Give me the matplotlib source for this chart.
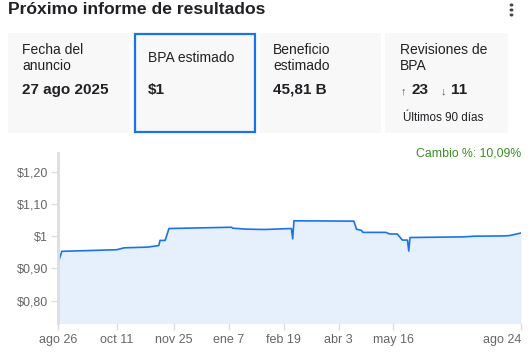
import matplotlib
matplotlib.use("Agg")
import matplotlib.pyplot as plt
from matplotlib.patches import Rectangle
import numpy as np

plt.rcParams['font.family'] = ['Liberation Sans', 'DejaVu Sans']

# ---- data ----
dates = ["2024-08-26", "2024-08-29", "2024-10-11", "2024-10-17", "2024-11-04",
         "2024-11-13", "2024-11-14", "2024-11-18", "2024-11-21", "2025-01-09",
         "2025-01-10", "2025-01-21", "2025-02-04", "2025-02-25", "2025-02-26",
         "2025-02-27", "2025-04-15", "2025-04-17", "2025-04-21", "2025-04-22",
         "2025-05-10", "2025-05-13", "2025-05-19", "2025-05-23", "2025-05-27",
         "2025-05-28", "2025-05-29", "2025-07-10", "2025-07-18", "2025-08-11",
         "2025-08-15", "2025-08-24"]
eps = [0.916, 0.953, 0.958, 0.964, 0.966,
       0.971, 0.987, 0.987, 1.024, 1.028,
       1.025, 1.022, 1.021, 1.024, 0.992,
       1.048, 1.047, 1.022, 1.018, 1.012,
       1.012, 1.007, 1.007, 0.988, 0.988,
       0.954, 0.996, 0.998, 1.000, 1.001,
       1.002, 1.010]
xtick_dates = ["2024-08-26", "2024-10-11", "2024-11-25", "2025-01-07",
               "2025-02-19", "2025-04-03", "2025-05-16", "2025-08-24"]
xtick_labels = ["ago 26", "oct 11", "nov 25", "ene 7", "feb 19", "abr 3", "may 16", "ago 24"]
ytick_vals = [0.80, 0.90, 1.00, 1.10, 1.20]
ytick_labels = ["$0,80", "$0,90", "$1", "$1,10", "$1,20"]
title = "Próximo informe de resultados"
cards = [
    (["Fecha del", "anuncio"], "27 ago 2025"),
    (["BPA estimado"], "$1"),
    (["Beneficio", "estimado"], "45,81 B"),
    (["Revisiones de", "BPA"], None),
]
rev_up, rev_down = "23", "11"
rev_note = "Últimos 90 días"
change_text = "Cambio %: 10,09%"

W, H = 532, 362
fig = plt.figure(figsize=(W / 100, H / 100), dpi=100)
fig.patch.set_facecolor("white")

def fx(x):
    return x / W

def fy(y):
    return 1 - y / H

# title
fig.text(fx(8), fy(10), title, fontsize=12.6, fontweight="bold", color="#202124",
         va="center", ha="left")
# vertical dots
for yy in (5, 10, 15):
    fig.patches.append(plt.Circle((fx(511.5), fy(yy)), 1.2 / W, transform=fig.transFigure,
                                  color="#444444"))

# cards
card_x = [(8, 129), (134, 255), (260, 381), (385, 508)]
for i, (x0, x1) in enumerate(card_x):
    fig.patches.append(Rectangle((fx(x0), fy(133)), (x1 - x0) / W, 100 / H,
                                 transform=fig.transFigure, facecolor="#f8f8f8",
                                 edgecolor="none", zorder=0))
# blue border for selected card
fig.patches.append(Rectangle((fx(135), fy(131.5)), 119.5 / W, 97.5 / H,
                             transform=fig.transFigure, facecolor="none",
                             edgecolor="#1a73e8", linewidth=1.6, zorder=2))

text_x = [22, 148, 273, 400]
for (lines, big), tx in zip(cards, text_x):
    if len(lines) == 2:
        fig.text(fx(tx), fy(50), lines[0], fontsize=10, color="#202124", va="center")
        fig.text(fx(tx), fy(66), lines[1], fontsize=10, color="#202124", va="center")
    else:
        fig.text(fx(tx), fy(58), lines[0], fontsize=10, color="#202124", va="center")
    if big is not None:
        fig.text(fx(tx), fy(90), big, fontsize=11, fontweight="bold", color="#202124",
                 va="center")

fig.text(fx(400.5), fy(91), "↑", fontsize=8, color="#555555", va="center")
fig.text(fx(411), fy(90), rev_up, fontsize=11, fontweight="bold", color="#202124", va="center")
fig.text(fx(440.5), fy(91), "↓", fontsize=8, color="#555555", va="center")
fig.text(fx(451), fy(90), rev_down, fontsize=11, fontweight="bold", color="#202124", va="center")
fig.text(fx(403), fy(118), rev_note, fontsize=8.4, color="#202124", va="center")

# chart
left, right, top, bottom = 58, 521, 153, 323
ax = fig.add_axes([fx(left), fy(bottom), (right - left) / W, (bottom - top) / H])
x = np.array(dates, dtype="datetime64[D]").astype("O")
y = np.array(eps)
ax.fill_between(x, y, 0, color="#e6f0fc", linewidth=0)
ax.plot(x, y, color="#1a73e8", linewidth=1.2)

xt = np.array(xtick_dates, dtype="datetime64[D]").astype("O")
ax.set_xticks(xt)
ax.set_xticklabels(xtick_labels)
ax.set_yticks(ytick_vals)
ax.set_yticklabels(ytick_labels)
ax.set_xlim(x[0], x[-1])
ax.set_ylim(0.73, 1.259)

for s in ("top", "right", "bottom"):
    ax.spines[s].set_visible(False)
ax.spines["left"].set_color("#dddddd")
ax.spines["left"].set_linewidth(2)
ax.tick_params(axis="both", colors="#dddddd", labelcolor="#666666", labelsize=9,
               length=5, width=1)
ax.tick_params(axis="y", pad=2)
ax.tick_params(axis="x", pad=3)
ax.get_xticklabels()[-1].set_horizontalalignment("right")

fig.text(fx(521), fy(153), change_text, fontsize=8.8, color="#3b8c24", ha="right", va="center")

fig.savefig("out.png", dpi=100, facecolor="white")
